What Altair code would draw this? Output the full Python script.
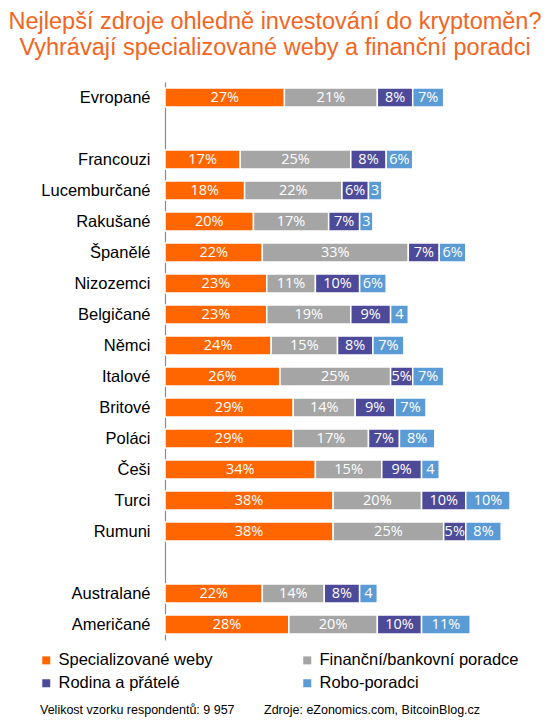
import altair as alt
import pandas as pd

countries = ["Evropané", "Francouzi", "Lucemburčané", "Rakušané", "Španělé", "Nizozemci",
             "Belgičané", "Němci", "Italové", "Britové", "Poláci", "Češi", "Turci", "Rumuni",
             "Australané", "Američané"]
series = ["Specializované weby", "Finanční/bankovní poradce", "Rodina a přátelé", "Robo-poradci"]
legend_order = ["Specializované weby", "Rodina a přátelé", "Finanční/bankovní poradce", "Robo-poradci"]
web = [27, 17, 18, 20, 22, 23, 23, 24, 26, 29, 29, 34, 38, 38, 22, 28]
fin = [21, 25, 22, 17, 33, 11, 19, 15, 25, 14, 17, 15, 20, 25, 14, 20]
fam = [8, 8, 6, 7, 7, 10, 9, 8, 5, 9, 7, 9, 10, 5, 8, 10]
robo = [7, 6, 3, 3, 6, 6, 4, 7, 7, 7, 8, 4, 10, 8, 4, 11]
colors = ["#FF6600", "#A5A5A5", "#4E4A9A", "#5B9BD5"]

# row order with two empty spacer rows
y_order = ["Evropané", " "] + countries[1:14] + ["  "] + countries[14:]

rows = []
for i, c in enumerate(countries):
    for j, (s, vals) in enumerate(zip(series, [web, fin, fam, robo])):
        v = vals[i]
        rows.append({"country": c, "series": s, "idx": j, "value": v,
                     "label": f"{v}%" if v >= 5 else str(v)})
df = pd.DataFrame(rows)

base = alt.Chart(df).transform_stack(
    stack="value", groupby=["country"], as_=["x0", "x1"],
    sort=[alt.SortField("idx", order="ascending")]
).transform_calculate(mid="(datum.x0 + datum.x1) / 2")

yenc = alt.Y("country:N", sort=y_order, scale=alt.Scale(domain=y_order, paddingInner=0.38, paddingOuter=0.19),
             axis=alt.Axis(title=None, ticks=False, labelFontSize=16.5, labelFont="Liberation Sans",
                           labelColor="#000000", labelPadding=15, domainColor="#8C8C8C",
                           domainWidth=1.2, labelLimit=200))

bars = base.mark_bar(stroke="white", strokeWidth=1.5).encode(
    x=alt.X("x0:Q", scale=alt.Scale(domain=[0, 85], nice=False, zero=True), axis=None),
    x2="x1:Q",
    y=yenc,
    color=alt.Color("series:N", sort=series,
                    scale=alt.Scale(domain=series, range=colors),
                    legend=alt.Legend(title=None, orient="none", legendX=-127, legendY=570,
                                      columns=2, columnPadding=86, rowPadding=6,
                                      values=legend_order,
                                      symbolType="square", symbolSize=64, symbolStrokeWidth=0,
                                      labelFontSize=16.5, labelFont="Liberation Sans",
                                      labelColor="#000000", labelOffset=4, labelLimit=300)),
)

labels = base.mark_text(color="white", font="Open Sans", fontSize=14.5).encode(
    x=alt.X("mid:Q"),
    y=alt.Y("country:N", sort=y_order),
    text="label:N",
)

foot = alt.Chart(pd.DataFrame({"t": ["Velikost vzorku respondentů: 9 957"]})).mark_text(
    align="left", baseline="middle", fontSize=12.5, font="Liberation Sans", color="#000000"
).encode(x=alt.value(-125), y=alt.value(628), text="t:N")
foot2 = alt.Chart(pd.DataFrame({"t": ["Zdroje: eZonomics.com, BitcoinBlog.cz"]})).mark_text(
    align="left", baseline="middle", fontSize=12.5, font="Liberation Sans", color="#000000"
).encode(x=alt.value(99), y=alt.value(628), text="t:N")

chart = alt.layer(bars, labels, foot, foot2).properties(
    width=376,
    height=alt.Step(31),
    title=alt.TitleParams(
        ["Nejlepší zdroje ohledně investování do kryptoměn?",
         "Vyhrávají specializované weby a finanční poradci"],
        anchor="start", frame="group", align="center", dx=110, fontSize=23.5, font="Liberation Sans",
        fontWeight="normal", color="#F26522", lineHeight=26, offset=23),
    padding={"left": 165, "top": 82, "right": 9, "bottom": 86},
    autosize=alt.AutoSizeParams(type="none"),
).configure_view(stroke=None)

chart.save("out.html", embed_options={"renderer": "svg", "actions": False})
